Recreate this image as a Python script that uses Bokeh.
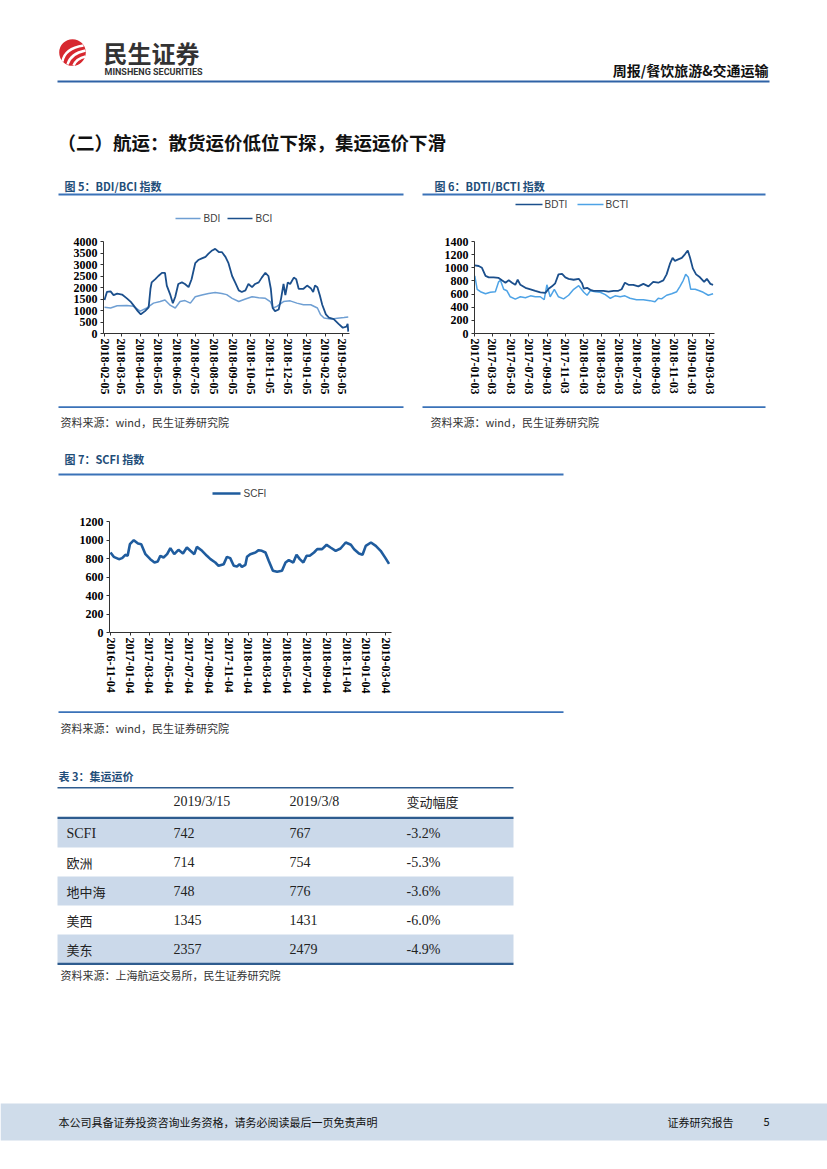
import math
import pandas as pd
from bokeh.plotting import figure
from bokeh.models import Range1d, FixedTicker, DatetimeTickFormatter, Spacer
from bokeh.layouts import column, row
from bokeh.embed import file_html
from bokeh.resources import INLINE
from bokeh.core.properties import value

# ---------------- data ----------------
bdi_dates = ["2018-02-05", "2018-02-15", "2018-02-26", "2018-03-14", "2018-03-25", "2018-04-05",
             "2018-04-16", "2018-04-27", "2018-05-08", "2018-05-16", "2018-05-25", "2018-06-02",
             "2018-06-10", "2018-06-18", "2018-06-27", "2018-07-05", "2018-07-16", "2018-07-27",
             "2018-08-07", "2018-08-18", "2018-08-26", "2018-09-04", "2018-09-15", "2018-09-26",
             "2018-10-07", "2018-10-18", "2018-10-29", "2018-11-06", "2018-11-11", "2018-11-17",
             "2018-11-28", "2018-12-09", "2018-12-20", "2018-12-31", "2019-01-12", "2019-01-23",
             "2019-01-28", "2019-02-03", "2019-02-14", "2019-02-25", "2019-03-08", "2019-03-15"]
bdi_values = [1140, 1110, 1210, 1220, 1180, 970, 1110, 1320, 1390, 1460, 1220, 1110,
              1390, 1430, 1320, 1600, 1670, 1740, 1780, 1740, 1690, 1530, 1390, 1500,
              1600, 1555, 1530, 1390, 1110, 1180, 1390, 1420, 1320, 1250, 1250, 1110,
              830, 670, 625, 667, 694, 722]

bci_dates = ["2018-02-05", "2018-02-09", "2018-02-15", "2018-02-20", "2018-02-26", "2018-03-06",
             "2018-03-14", "2018-03-20", "2018-03-25", "2018-04-01", "2018-04-06", "2018-04-13",
             "2018-04-19", "2018-04-22", "2018-04-24", "2018-04-30", "2018-05-05", "2018-05-11",
             "2018-05-16", "2018-05-19", "2018-05-25", "2018-05-29", "2018-06-02", "2018-06-07",
             "2018-06-13", "2018-06-18", "2018-06-24", "2018-06-29", "2018-07-05", "2018-07-10",
             "2018-07-16", "2018-07-22", "2018-07-27", "2018-08-02", "2018-08-07", "2018-08-13",
             "2018-08-18", "2018-08-24", "2018-08-29", "2018-09-04", "2018-09-09", "2018-09-15",
             "2018-09-20", "2018-09-26", "2018-10-01", "2018-10-07", "2018-10-12", "2018-10-18",
             "2018-10-23", "2018-10-29", "2018-11-03", "2018-11-07", "2018-11-10", "2018-11-14",
             "2018-11-20", "2018-11-24", "2018-11-28", "2018-12-01", "2018-12-05", "2018-12-09",
             "2018-12-15", "2018-12-19", "2018-12-23", "2018-12-31", "2019-01-06", "2019-01-12",
             "2019-01-16", "2019-01-19", "2019-01-23", "2019-01-27", "2019-01-31", "2019-02-06",
             "2019-02-11", "2019-02-19", "2019-02-27", "2019-03-06", "2019-03-12", "2019-03-14",
             "2019-03-15"]
bci_values = [1460, 1805, 1833, 1667, 1736, 1694, 1528, 1389, 1222, 972, 833, 972,
              1139, 1944, 2222, 2361, 2500, 2639, 2639, 2083, 1667, 1319, 1597, 2153,
              2222, 2153, 2014, 2361, 3056, 3194, 3264, 3333, 3472, 3611, 3681, 3542,
              3542, 3333, 3056, 2500, 2222, 1875, 1805, 1875, 2153, 2014, 2153, 2222,
              2430, 2639, 2500, 1944, 1111, 972, 1042, 1528, 2153, 1667, 2222, 2153,
              2430, 2361, 1944, 1944, 2083, 1972, 1805, 2083, 2014, 1667, 1250, 833,
              694, 625, 417, 250, 300, 420, 80]
ticks5 = ["2018-02-05", "2018-03-05", "2018-04-05", "2018-05-05", "2018-06-05", "2018-07-05",
          "2018-08-05", "2018-09-05", "2018-10-05", "2018-11-05", "2018-12-05", "2019-01-05",
          "2019-02-05", "2019-03-05"]

bdti_dates = ["2017-01-03", "2017-01-16", "2017-01-27", "2017-02-08", "2017-02-19", "2017-03-07",
              "2017-03-24", "2017-04-04", "2017-04-16", "2017-04-27", "2017-05-08", "2017-05-19",
              "2017-05-27", "2017-06-05", "2017-06-22", "2017-07-09", "2017-07-25", "2017-08-11",
              "2017-08-28", "2017-09-08", "2017-09-19", "2017-09-30", "2017-10-11", "2017-10-23",
              "2017-11-03", "2017-11-14", "2017-12-01", "2017-12-18", "2017-12-29", "2018-01-04",
              "2018-01-15", "2018-01-26", "2018-02-06", "2018-02-23", "2018-03-11", "2018-03-28",
              "2018-04-14", "2018-04-30", "2018-05-11", "2018-05-22", "2018-06-03", "2018-06-19",
              "2018-07-06", "2018-07-23", "2018-08-09", "2018-08-25", "2018-09-11", "2018-09-28",
              "2018-10-09", "2018-10-20", "2018-10-29", "2018-11-06", "2018-11-17", "2018-11-29",
              "2018-12-10", "2018-12-19", "2018-12-27", "2019-01-05", "2019-01-16", "2019-01-29",
              "2019-02-12", "2019-02-21", "2019-03-05", "2019-03-14"]
bdti_values = [1036, 1027, 1000, 877, 855, 855, 845, 809, 773, 809, 773, 741,
               818, 741, 695, 673, 650, 627, 618, 682, 718, 764, 900, 909,
               855, 832, 818, 832, 764, 682, 695, 664, 650, 650, 650, 636,
               650, 650, 673, 773, 741, 741, 718, 755, 718, 786, 773, 809,
               900, 1059, 1150, 1105, 1127, 1150, 1209, 1264, 1150, 991, 900, 855,
               786, 832, 755, 741]

bcti_dates = ["2017-01-03", "2017-01-11", "2017-01-22", "2017-02-08", "2017-02-24", "2017-03-13",
              "2017-03-24", "2017-03-30", "2017-04-10", "2017-04-21", "2017-05-02", "2017-05-19",
              "2017-06-05", "2017-06-22", "2017-07-09", "2017-07-25", "2017-08-11", "2017-08-24",
              "2017-09-02", "2017-09-13", "2017-09-27", "2017-10-11", "2017-10-28", "2017-11-14",
              "2017-12-01", "2017-12-18", "2018-01-04", "2018-01-15", "2018-01-26", "2018-02-12",
              "2018-02-28", "2018-03-17", "2018-04-03", "2018-04-19", "2018-05-06", "2018-05-22",
              "2018-06-08", "2018-06-30", "2018-07-23", "2018-08-14", "2018-08-31", "2018-09-11",
              "2018-09-22", "2018-10-09", "2018-10-26", "2018-11-12", "2018-11-23", "2018-12-04",
              "2018-12-12", "2018-12-21", "2018-12-29", "2019-01-13", "2019-01-27", "2019-02-09",
              "2019-02-26", "2019-03-14"]
bcti_values = [877, 673, 636, 605, 627, 636, 786, 809, 673, 650, 559, 523,
               559, 545, 573, 559, 559, 514, 741, 559, 673, 559, 527, 582,
               673, 727, 627, 582, 650, 636, 627, 591, 536, 573, 559, 573,
               536, 514, 514, 500, 482, 536, 527, 582, 605, 636, 718, 809,
               900, 855, 673, 673, 650, 627, 582, 605]
ticks6 = ["2017-01-03", "2017-03-03", "2017-05-03", "2017-07-03", "2017-09-03", "2017-11-03",
          "2018-01-03", "2018-03-03", "2018-05-03", "2018-07-03", "2018-09-03", "2018-11-03",
          "2019-01-03", "2019-03-03"]

scfi_dates = ["2016-11-04", "2016-11-14", "2016-11-30", "2016-12-10", "2016-12-20", "2016-12-27",
              "2017-01-03", "2017-01-15", "2017-01-28", "2017-02-07", "2017-02-20", "2017-03-07",
              "2017-03-20", "2017-03-30", "2017-04-07", "2017-04-17", "2017-04-28", "2017-05-08",
              "2017-05-20", "2017-06-02", "2017-06-16", "2017-06-28", "2017-07-09", "2017-07-21",
              "2017-07-29", "2017-08-14", "2017-08-29", "2017-09-09", "2017-09-24", "2017-10-04",
              "2017-10-20", "2017-10-30", "2017-11-09", "2017-11-20", "2017-11-30", "2017-12-08",
              "2017-12-15", "2017-12-26", "2017-12-31", "2018-01-10", "2018-01-26", "2018-02-05",
              "2018-02-15", "2018-02-26", "2018-03-08", "2018-03-21", "2018-04-03", "2018-04-18",
              "2018-04-29", "2018-05-09", "2018-05-23", "2018-06-02", "2018-06-12", "2018-06-23",
              "2018-07-03", "2018-07-13", "2018-07-26", "2018-08-05", "2018-08-20", "2018-09-03",
              "2018-09-15", "2018-10-01", "2018-10-16", "2018-11-01", "2018-11-17", "2018-11-27",
              "2018-12-12", "2018-12-23", "2019-01-02", "2019-01-18", "2019-02-02", "2019-02-17",
              "2019-03-04", "2019-03-15"]
scfi_values = [865, 818, 793, 804, 840, 829, 955, 998, 962, 955, 847, 793,
               757, 768, 829, 811, 847, 912, 847, 894, 854, 919, 883, 847,
               926, 883, 829, 793, 757, 721, 739, 818, 804, 721, 714, 739,
               710, 732, 818, 847, 865, 890, 883, 865, 775, 667, 656, 667,
               757, 782, 757, 840, 793, 757, 829, 829, 865, 901, 901, 948,
               919, 883, 908, 973, 948, 901, 854, 840, 937, 973, 937, 883,
               804, 742]
ticks7 = ["2016-11-04", "2017-01-04", "2017-03-04", "2017-05-04", "2017-07-04", "2017-09-04",
          "2017-11-04", "2018-01-04", "2018-03-04", "2018-05-04", "2018-07-04", "2018-09-04",
          "2018-11-04", "2019-01-04", "2019-03-04"]

table_cols = ["", "2019/3/15", "2019/3/8", "变动幅度"]
table_routes = ["SCFI", "欧洲", "地中海", "美西", "美东"]
table_0315 = [742, 714, 748, 1345, 2357]
table_0308 = [767, 754, 776, 1431, 2479]
table_change = [-3.2, -5.3, -3.6, -6.0, -4.9]

# ---------------- helpers ----------------
SANS = "Noto Sans CJK SC"
SERIF = "Liberation Serif"
TITLE_BLUE = "#1f4e79"
RULE_BLUE = "#3a72b8"
PAGE_W = 811
FULL_W = 827


def deco(x0, y0, w, h):
    p = figure(width=w, height=h, x_range=Range1d(x0, x0 + w), y_range=Range1d(y0 + h, y0),
               output_backend="svg", toolbar_location=None, min_border=0,
               x_axis_location=None, y_axis_location=None)
    p.grid.visible = False
    p.outline_line_color = None
    p.background_fill_color = "white"
    p.border_fill_color = "white"
    return p


def txt(p, x, y, s, size, color="#000000", font=SANS, style="normal", align="left"):
    p.text(x=[x], y=[y], text=[s], text_font=value(font), text_font_size=f"{size}px",
           text_color=color, text_font_style=style, text_align=align, text_baseline="middle")


def hline(p, x0, x1, y, color, width):
    p.line([x0, x1], [y, y], line_color=color, line_width=width)


def ms(t):
    return pd.Timestamp(t).value / 1e6


def chart(w, h, left, top, right, bottom, t0, p0, t1, p1, ymax, ystep, ticks):
    frame_left = left
    frame_right = w - right
    days = (pd.Timestamp(t1) - pd.Timestamp(t0)) / pd.Timedelta(days=1)
    scale = (p1 - p0) / days
    day_ms = 86400000.0
    start = ms(t0) - (p0 - frame_left) / scale * day_ms
    end = ms(t0) + (frame_right - p0) / scale * day_ms
    p = figure(width=w, height=h, x_axis_type="datetime",
               x_range=Range1d(start, end), y_range=Range1d(0, ymax),
               output_backend="svg", toolbar_location=None,
               min_border_left=left, min_border_right=right,
               min_border_top=top, min_border_bottom=bottom)
    p.grid.visible = False
    p.outline_line_color = None
    p.background_fill_color = "white"
    p.border_fill_color = "white"
    p.xaxis.ticker = FixedTicker(ticks=[ms(t) for t in ticks])
    fmt = "%Y-%m-%d"
    p.xaxis.formatter = DatetimeTickFormatter(days=fmt, months=fmt, years=fmt, hours=fmt,
                                              hourmin=fmt, minutes=fmt)
    p.yaxis.ticker = FixedTicker(ticks=list(range(0, ymax + 1, ystep)))
    p.xaxis.major_label_orientation = -math.pi / 2
    for ax in (p.xaxis, p.yaxis):
        ax.axis_line_color = "#333333"
        ax.axis_line_width = 1
        ax.major_tick_line_color = "#333333"
        ax.major_tick_out = 3
        ax.major_tick_in = 0
        ax.minor_tick_line_color = None
        ax.major_label_text_font = SERIF
        ax.major_label_text_font_style = "bold"
        ax.major_label_text_font_size = "12px"
        ax.major_label_text_color = "#000000"
    p.xaxis.major_label_standoff = 2
    p.yaxis.major_label_standoff = 3
    return p


# ---------------- block A: header ----------------
A = deco(0, 0, PAGE_W, 224)
A.circle(x=[72], y=[52], radius=13.3, fill_color="#d7282f", line_color=None)
for (sx, sy, cx, cy, ex, ey) in [(62, 61, 64, 48, 83, 45), (67, 64, 70, 53, 85, 50), (73, 65, 76, 58, 85, 56)]:
    A.quadratic(x0=[sx], y0=[sy], x1=[ex], y1=[ey], cx=[cx], cy=[cy], line_color="white", line_width=2.4)
txt(A, 103, 52, "民生证券", 24, color="#333333", style="bold")
txt(A, 104, 71.5, "MINSHENG SECURITIES", 9, color="#333333", font="Roboto", style="bold")
txt(A, 768, 69, "周报/餐饮旅游&交通运输", 14, color="#111111", style="bold", align="right")
hline(A, 57, 769, 81, "#2f62a6", 2.2)
txt(A, 57, 141, "（二）航运：散货运价低位下探，集运运价下滑", 18.5, color="#111111", style="bold")
# chart 5 / chart 6 headings
txt(A, 64, 185, "图 5：BDI/BCI 指数", 11, color=TITLE_BLUE, style="bold")
hline(A, 58, 403, 194, RULE_BLUE, 1.8)
txt(A, 434, 185, "图 6：BDTI/BCTI 指数", 11, color=TITLE_BLUE, style="bold")
hline(A, 422, 765, 194, RULE_BLUE, 1.8)

C5_BDI = "#6f9fd3"
C5_BCI = "#1b4f8c"
C6_BDTI = "#1b4f8c"
C6_BCTI = "#4ea3e6"
C7_SCFI = "#1f5c9e"

# legends
hline(A, 175, 200, 218, C5_BDI, 1.5)
txt(A, 203, 218, "BDI", 10, color="#404040", font="Liberation Sans")
hline(A, 227, 252, 218, C5_BCI, 1.5)
txt(A, 255, 218, "BCI", 10, color="#404040", font="Liberation Sans")
hline(A, 515, 542, 204, C6_BDTI, 1.5)
txt(A, 544, 204, "BDTI", 10, color="#404040", font="Liberation Sans")
hline(A, 577, 603, 204, C6_BCTI, 1.5)
txt(A, 605, 204, "BCTI", 10, color="#404040", font="Liberation Sans")

# ---------------- block B: charts 5 & 6 ----------------
fig5 = chart(420, 180, 103, 17, 71, 67, "2018-02-05", 104, "2019-03-05", 341.7, 4000, 500, ticks5)
fig5.line(pd.to_datetime(bdi_dates), bdi_values, line_color=C5_BDI, line_width=1.5)
fig5.line(pd.to_datetime(bci_dates), bci_values, line_color=C5_BCI, line_width=1.8)

fig6 = chart(391, 180, 54, 6, 97, 71, "2017-01-03", 474.3 - 420, "2019-03-03", 709.3 - 420, 1400, 200, ticks6)
fig6.line(pd.to_datetime(bcti_dates), bcti_values, line_color=C6_BCTI, line_width=1.5)
fig6.line(pd.to_datetime(bdti_dates), bdti_values, line_color=C6_BDTI, line_width=1.8)

# ---------------- block C ----------------
C = deco(0, 404, PAGE_W, 101)
hline(C, 58, 403, 406.7, RULE_BLUE, 1.8)
hline(C, 422, 765, 406.7, RULE_BLUE, 1.8)
txt(C, 60, 421, "资料来源：wind，民生证券研究院", 11, color="#333333")
txt(C, 430, 421, "资料来源：wind，民生证券研究院", 11, color="#333333")
txt(C, 64, 458, "图 7：SCFI 指数", 11, color=TITLE_BLUE, style="bold")
hline(C, 58, 563, 474, RULE_BLUE, 1.8)
hline(C, 212, 240, 493, C7_SCFI, 2.6)
txt(C, 243, 493, "SCFI", 10, color="#404040", font="Liberation Sans")

# ---------------- block D: chart 7 ----------------
fig7 = chart(570, 201, 109, 16, 179, 74, "2016-11-04", 110, "2019-03-04", 385, 1200, 200, ticks7)
fig7.line(pd.to_datetime(scfi_dates), scfi_values, line_color=C7_SCFI, line_width=2.6)
D = row(fig7, Spacer(width=PAGE_W - 570, height=201))

# ---------------- block E: table & footer ----------------
E = deco(0, 706, FULL_W, 447)
hline(E, 58, 563, 711.7, RULE_BLUE, 1.8)
txt(E, 60, 727, "资料来源：wind，民生证券研究院", 11, color="#333333")

txt(E, 58, 775, "表 3：集运运价", 11, color=TITLE_BLUE, style="bold")
col_x = [66, 173, 289, 406]
row_top = 818.0
row_h = 29.0
for i in range(len(table_routes)):
    if i % 2 == 0:
        E.quad(left=[57], right=[513], top=[row_top + i * row_h], bottom=[row_top + (i + 1) * row_h],
               fill_color="#cbd9ea", line_color=None)
hline(E, 57, 513, 787.3, "#2e5c8f", 1.6)
hline(E, 57, 513, 817.3, "#2e5c8f", 2.2)
hline(E, 57, 513, row_top + len(table_routes) * row_h + 0.3, "#2e5c8f", 2.2)
for j, head in enumerate(table_cols):
    if head:
        f = SERIF if head.isascii() else SANS
        txt(E, col_x[j], 801, head, 14 if f == SERIF else 13, color="#222222", font=f)
for i, name in enumerate(table_routes):
    yc = row_top + i * row_h + row_h / 2
    f = SERIF if name.isascii() else SANS
    txt(E, col_x[0], yc, name, 14 if f == SERIF else 13, color="#222222", font=f)
    txt(E, col_x[1], yc, f"{table_0315[i]}", 14, color="#222222", font=SERIF)
    txt(E, col_x[2], yc, f"{table_0308[i]}", 14, color="#222222", font=SERIF)
    txt(E, col_x[3], yc, f"{table_change[i]:.1f}%", 14, color="#222222", font=SERIF)
txt(E, 60, 974, "资料来源：上海航运交易所，民生证券研究院", 11, color="#333333")

# footer
E.quad(left=[0], right=[FULL_W], top=[1103], bottom=[1140], fill_color="#cfdcea", line_color=None)
txt(E, 58, 1121, "本公司具备证券投资咨询业务资格，请务必阅读最后一页免责声明", 11, color="#111111")
txt(E, 667, 1121, "证券研究报告", 11, color="#111111")
txt(E, 763, 1121, "5", 11, color="#111111")

page = column(A, row(fig5, fig6), C, D, E)
open("out.html", "w").write(file_html(page, INLINE, title="航运"))
